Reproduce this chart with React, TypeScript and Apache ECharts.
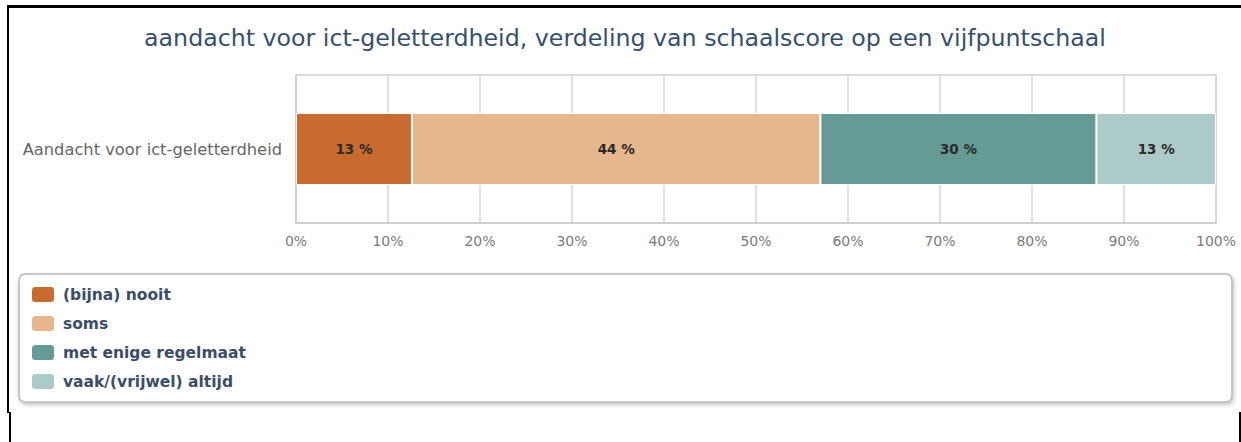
import React, { useEffect, useRef } from "react";
import * as echarts from "echarts";

const categories = ["Aandacht voor ict-geletterdheid"];
const seriesNames = ["(bijna) nooit", "soms", "met enige regelmaat", "vaak/(vrijwel) altijd"];
const seriesValues = [[12.6], [44.4], [30.0], [13.0]];
const seriesColors = ["#C96B2F", "#E6B78C", "#659B94", "#ABCAC8"];
const titleText = "aandacht voor ict-geletterdheid, verdeling van schaalscore op een vijfpuntschaal";

const FONT = "'DejaVu Sans', 'Open Sans', sans-serif";

export default function App() {
  const ref = useRef<HTMLDivElement>(null);
  useEffect(() => {
    if (!ref.current) return;
    const chart = echarts.init(ref.current, undefined, { renderer: "svg" });
    chart.setOption({
      animation: false,
      backgroundColor: "#ffffff",
      textStyle: { fontFamily: FONT },
      title: {
        text: titleText,
        left: 620,
        textAlign: "center",
        top: 21,
        textStyle: { color: "#34506E", fontSize: 23.7, fontWeight: "normal", fontFamily: FONT },
      },
      graphic: [
        {
          type: "rect",
          shape: { x: 19, y: 274, width: 1213, height: 128, r: 6 },
          style: {
            fill: "#ffffff",
            stroke: "#b8b8b8",
            lineWidth: 1.5,
            shadowBlur: 4,
            shadowOffsetX: 1,
            shadowOffsetY: 2,
            shadowColor: "rgba(0,0,0,0.25)",
          },
          z: -1,
        },
      ],
      legend: {
        orient: "vertical",
        left: 30,
        top: 285,
        itemWidth: 24,
        itemHeight: 17,
        itemGap: 10,
        icon: "roundRect",
        padding: 0,
        data: seriesNames,
        textStyle: { color: "#3B4E68", fontSize: 15.5, fontWeight: "bold", fontFamily: FONT, padding: [0, 0, 0, 3] },
      },
      grid: {
        left: 296,
        right: 25,
        top: 75,
        bottom: 219,
        show: true,
        borderColor: "#cfcfcf",
        borderWidth: 1.5,
        backgroundColor: "transparent",
      },
      xAxis: {
        type: "value",
        min: 0,
        max: 100,
        interval: 10,
        axisLine: { show: true, lineStyle: { color: "#cfcfcf", width: 2 } },
        axisTick: { show: false },
        splitLine: { show: true, lineStyle: { color: "#d6d6d6", width: 1.5 } },
        axisLabel: { formatter: "{value}%", color: "#7a7a7a", fontSize: 14, margin: 11, fontFamily: FONT },
      },
      yAxis: {
        type: "category",
        data: categories,
        axisLine: { show: true, lineStyle: { color: "#cfcfcf", width: 2 } },
        axisTick: { show: false },
        axisLabel: { color: "#666666", fontSize: 16.3, margin: 14, fontFamily: FONT },
      },
      series: seriesNames.map((name, i) => ({
        name,
        type: "bar",
        stack: "total",
        barWidth: 72,
        data: seriesValues[i],
        itemStyle: { color: seriesColors[i], borderColor: "#ffffff", borderWidth: 1 },
        label: {
          show: true,
          position: "inside",
          color: "#2a2a2a",
          fontSize: 13.5,
          fontWeight: "bold",
          fontFamily: FONT,
          formatter: (p: any) => Math.round(p.value) + " %",
        },
      })),
    });
    return () => chart.dispose();
  }, []);

  return (
    <div style={{ position: "fixed", left: 0, top: 0, width: 1241, height: 442, background: "#fff", overflow: "hidden" }}>
      <div ref={ref} style={{ position: "absolute", left: 0, top: 0, width: 1241, height: 442 }} />
      <div style={{ position: "absolute", left: 7, top: 5, width: 1234, height: 3, background: "#000" }} />
      <div style={{ position: "absolute", left: 7, top: 5, width: 2, height: 408, background: "#000" }} />
      <div style={{ position: "absolute", left: 9, top: 412, width: 2, height: 30, background: "#000" }} />
      <div style={{ position: "absolute", left: 1239, top: 412, width: 2, height: 30, background: "#000" }} />
    </div>
  );
}
